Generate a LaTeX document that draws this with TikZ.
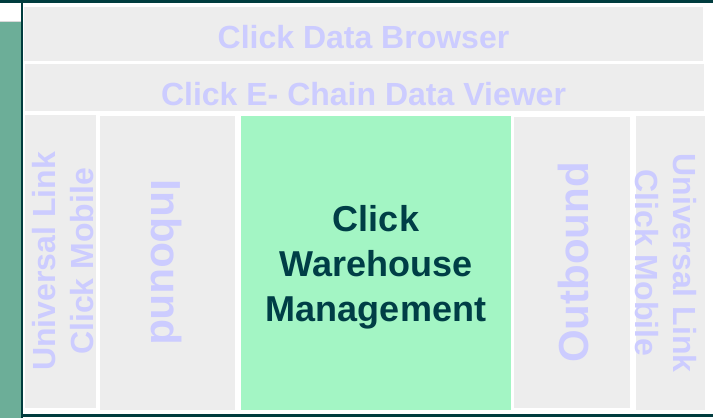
\documentclass[tikz,border=0pt]{standalone}
\usepackage{fontspec}
\setmainfont{Liberation Sans}
\usetikzlibrary{fit}
\definecolor{boxgray}{RGB}{237,237,237}
\definecolor{lav}{RGB}{204,204,255}
\definecolor{wmgreen}{RGB}{163,245,196}
\definecolor{wmtext}{RGB}{0,62,70}
\definecolor{band}{RGB}{108,174,152}
\definecolor{frame}{RGB}{0,60,62}
\begin{document}
\begin{tikzpicture}[x=1pt,y=-1pt,
  graybox/.style={fill=boxgray, draw=none, inner sep=0pt, outer sep=0pt},
  greenbox/.style={fill=wmgreen, draw=none, inner sep=0pt, outer sep=0pt},
  hdr/.style={text=lav, font=\fontsize{32}{38}\selectfont\bfseries, inner sep=0pt},
  side/.style={text=lav, font=\fontsize{32}{38}\selectfont\bfseries, inner sep=0pt, align=center},
  flow/.style={text=lav, font=\fontsize{42}{50}\selectfont\bfseries, inner sep=0pt},
  wm/.style={text=wmtext, font=\fontsize{36}{45}\selectfont\bfseries, inner sep=0pt, align=center}]
\useasboundingbox (0,0) rectangle (713,418);
\fill[white] (0,0) rectangle (713,418);
% left band and frame
\fill[band] (0,21.5) rectangle (20.7,418);
\fill[black!15] (0,20.8) rectangle (20.7,21.5);
\fill[frame] (0,0) rectangle (713,2.7);
\fill[frame] (20.7,0) rectangle (23.3,418);
\fill[frame] (20.7,414.3) rectangle (713,417);
% boxes
\node[graybox, fit={(24,7) (703,61)}] (browser) {};
\node[graybox, fit={(25,64) (704,111)}] (viewer) {};
\node[graybox, fit={(25,115) (96,408.3)}] (ulleft) {};
\node[graybox, fit={(100,116) (235,410)}] (inbound) {};
\node[greenbox, fit={(241,116) (511,409.5)}] (cwm) {};
\node[graybox, fit={(514,116.7) (630,408.3)}] (outbound) {};
\node[graybox, fit={(636,116) (705,410)}] (ulright) {};
% labels
\node[hdr, anchor=base] (browserlbl) at (363.5,48.3) {Click Data Browser};
\node[hdr, anchor=base] (viewerlbl) at (363.5,105) {Click E- Chain Data Viewer};
\node[side, rotate=90] (ulleftlbl) at (63.5,261.5) {Universal Link\\Click Mobile};
\node[side, rotate=-90] (ulrightlbl) at (665.7,263) {Universal Link\\Click Mobile};
\node[flow, rotate=-90] (inboundlbl) at (166.7,262.5) {Inbound};
\node[flow, rotate=90] (outboundlbl) at (573,262.5) {Outbound};
\node[wm] (cwmlbl) at (376,267.5) {Click\\Warehouse\\Management};
\end{tikzpicture}
\end{document}
